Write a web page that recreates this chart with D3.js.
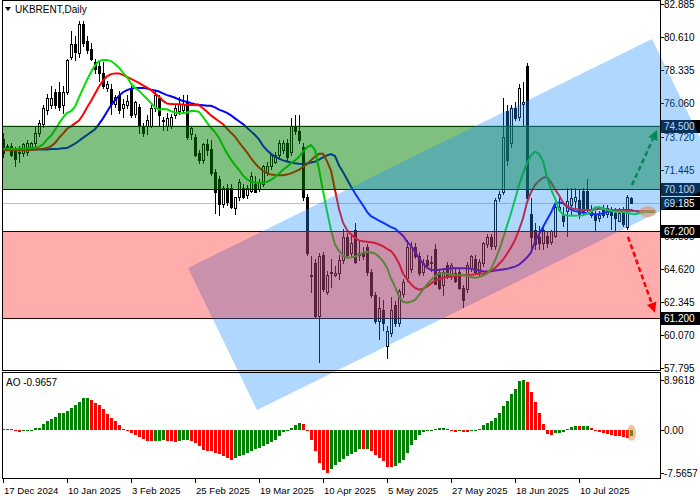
<!DOCTYPE html>
<html><head><meta charset="utf-8">
<script src="https://cdn.jsdelivr.net/npm/d3@7"></script>
<style>
body{margin:0;background:#fff}
svg{display:block}
text{font-family:"Liberation Sans",Arial,sans-serif;font-size:10px;fill:#000}
text.date{font-size:9.6px}
</style>
</head><body>
<svg id="c" width="700" height="500"></svg>
<script>
// ---------------- DATA ----------------
const symbol = "UKBRENT,Daily";
const dateTickBars = [0,16,32,48,64,80,96,112,128,144];
const dateTickLabels = ["17 Dec 2024","10 Jan 2025","3 Feb 2025","25 Feb 2025","19 Mar 2025","10 Apr 2025","5 May 2025","27 May 2025","18 Jun 2025","10 Jul 2025"];
const priceTicks = [82.885,80.610,78.335,76.060,73.720,71.445,69.170,66.895,64.620,62.345,60.070,57.795];
const aoTicks = [8.9618,0,-7.5657];
const aoTickLabels = ["8.9618","0.00","-7.5657"];
const levelValues = [74.5,70.1,67.2,61.2];
const levelLabels = ["74.500","70.100","67.200","61.200"];
const currentPrice = 69.185;
const aoLabel = "AO -0.9657";

const opens = [73.6,73.0,73.1,72.9,72.6,72.6,72.7,72.9,73.3,74.0,
74.6,75.6,75.9,76.8,76.8,75.9,76.8,79.2,80.1,79.5,
81.5,80.3,79.8,78.9,78.6,78.1,77.1,77.0,76.0,76.6,
75.7,75.9,77.0,75.3,75.8,74.4,74.5,74.5,75.7,76.4,
74.9,74.5,74.5,75.2,75.5,75.6,76.1,73.9,73.7,72.6,
72.1,73.2,72.9,71.3,70.8,69.1,70.2,70.2,68.8,69.6,
70.2,69.7,70.0,70.5,70.1,70.5,71.3,71.7,72.0,72.5,
72.8,73.3,72.7,74.5,74.1,73.0,69.6,64.1,65.0,61.4,
65.6,63.0,64.4,64.2,64.3,65.2,66.8,65.7,67.3,65.7,
65.8,66.1,64.4,62.8,61.0,61.8,59.3,60.2,62.1,60.9,
62.9,64.0,64.6,66.1,65.5,64.4,65.2,65.0,66.0,64.4,
63.5,64.9,64.1,64.3,64.4,63.3,63.2,64.7,65.3,64.4,
65.0,66.3,66.8,66.2,69.5,69.9,75.5,73.3,75.7,75.1,
76.0,78.6,68.4,67.3,66.8,66.4,66.9,66.5,66.9,68.7,
68.4,68.6,69.0,69.3,69.4,70.0,70.0,68.7,68.3,68.1,
68.7,68.4,68.7,68.5,67.9,68.7,67.5,69.5];
const highs = [74.0,73.2,73.3,73.0,73.1,73.3,73.5,73.4,74.4,74.9,
75.9,76.7,77.2,77.0,77.5,77.2,79.1,81.0,80.7,81.7,
81.7,80.7,80.2,79.1,78.9,78.9,77.6,77.4,76.6,76.9,
76.3,76.6,77.2,76.2,76.0,74.7,75.2,75.9,76.9,76.6,
75.1,75.4,75.3,75.9,76.5,76.6,76.6,74.5,73.9,72.8,
73.3,73.6,73.5,71.5,71.0,70.3,70.5,70.5,69.6,70.8,
70.5,70.4,71.3,71.0,70.8,71.8,72.0,72.6,72.7,73.5,
73.5,73.6,75.0,75.2,75.2,73.3,69.8,65.5,65.3,65.7,
65.8,64.5,65.3,64.8,65.6,67.4,67.1,67.0,67.8,66.6,
66.1,66.3,64.6,63.0,62.7,62.5,60.7,62.7,62.4,63.2,
63.9,66.6,66.5,66.4,65.8,65.3,65.6,65.5,66.3,64.6,
64.6,65.1,65.0,64.7,64.6,63.5,65.1,65.6,65.6,65.3,
66.5,67.0,67.0,69.5,70.0,76.4,75.9,75.9,76.1,77.4,
77.5,78.8,69.5,67.8,67.6,67.6,67.2,67.3,69.0,69.5,
68.9,70.2,70.2,70.2,70.1,70.2,70.8,69.0,68.6,68.6,
69.0,69.0,68.9,68.8,68.8,68.9,69.7,69.6];
const lows = [72.3,72.9,72.4,71.7,72.0,72.4,72.5,72.8,73.0,73.8,
74.4,75.3,75.7,75.7,75.6,75.4,76.7,79.1,79.0,79.2,
80.0,79.5,79.0,78.1,77.6,77.1,76.9,75.3,75.8,75.4,
75.1,75.7,75.1,75.1,74.0,73.8,73.9,74.4,75.5,74.5,
74.2,74.2,74.3,75.0,75.3,75.4,73.6,73.6,72.4,71.9,
71.9,72.5,71.1,68.5,68.3,68.9,69.0,68.8,68.4,69.4,
69.5,69.5,69.9,69.9,70.0,70.3,71.1,71.5,71.9,72.2,
72.6,72.1,72.5,73.9,73.3,69.4,65.6,63.0,61.2,58.2,
63.1,62.9,63.4,64.1,63.9,65.0,65.5,65.5,65.0,65.2,
65.3,64.2,62.7,60.9,59.8,60.4,58.5,60.0,60.7,60.7,
62.7,63.8,64.4,65.4,64.2,64.2,64.7,64.5,63.6,63.2,
62.8,64.0,63.9,63.7,63.2,62.0,63.0,64.5,64.3,64.2,
64.8,66.1,66.0,66.0,69.3,69.8,71.8,73.0,74.9,74.9,
74.5,69.3,65.8,66.0,66.0,66.0,66.1,66.3,66.8,68.6,
67.6,66.9,68.3,68.8,68.1,68.4,68.6,68.2,67.2,67.9,
68.2,68.2,67.4,67.3,67.9,67.6,67.4,69.2];
const closes = [72.6,73.1,72.5,72.2,72.7,73.2,73.3,73.3,74.0,74.7,
75.7,76.4,76.4,75.9,75.8,76.8,79.0,80.1,79.6,81.5,
80.2,79.7,79.1,78.4,78.1,77.2,77.4,76.0,76.5,75.6,
76.0,76.2,75.2,76.1,74.5,74.0,74.9,75.7,76.6,75.2,
74.8,75.0,75.1,75.7,76.0,76.0,73.7,74.3,72.5,72.1,
73.2,72.8,71.2,69.9,69.1,70.2,69.2,68.9,69.6,70.6,
69.6,70.2,71.0,69.9,70.6,71.7,71.7,72.5,72.5,73.3,
73.3,72.3,74.5,74.1,73.5,69.6,65.7,64.2,61.4,65.5,
63.2,64.2,64.3,64.3,65.2,66.8,65.6,66.4,65.1,65.6,
65.5,64.4,62.8,61.0,61.9,60.9,60.3,61.8,60.9,63.1,
63.7,66.1,66.1,65.5,64.3,65.0,64.9,65.1,63.6,63.3,
64.4,64.2,64.9,63.8,63.3,62.5,64.9,65.5,64.4,65.1,
66.4,66.8,66.2,69.4,69.8,73.7,72.1,75.7,75.0,77.1,
76.1,69.5,66.8,66.3,66.4,67.3,66.4,67.2,68.9,68.9,
67.9,69.3,69.5,69.6,68.3,68.6,68.7,68.3,68.0,68.3,
68.3,68.8,68.3,68.1,68.5,67.7,69.6,69.185];

// Alligator lines (already shifted forward, one value per bar slot)
const jawBlue = [72.85,72.85,72.85,72.85,72.85,72.85,72.85,72.85,72.85,72.85,
72.85,72.85,72.88,72.88,72.9,72.93,72.95,73.1,73.25,73.45,
73.65,73.85,74.05,74.25,74.6,75.0,75.45,75.9,76.25,76.55,
76.8,76.95,77.05,77.1,77.1,77.1,77.05,76.98,76.92,76.85,
76.72,76.6,76.52,76.42,76.3,76.2,76.15,76.05,75.98,75.93,
75.9,75.87,75.87,75.75,75.6,75.5,75.38,75.2,75.0,74.8,
74.6,74.35,74.1,73.85,73.55,73.1,72.8,72.55,72.36,72.22,
72.1,72.02,71.95,71.9,71.87,71.85,71.88,71.95,72.01,72.15,
72.3,72.45,72.54,72.4,71.75,71.3,70.8,70.3,69.83,69.4,
69.0,68.55,68.25,68.1,67.95,67.8,67.65,67.5,67.4,67.15,
66.9,66.5,66.2,65.8,65.35,65.0,64.7,64.55,64.5,64.55,
64.6,64.62,64.66,64.66,64.66,64.66,64.66,64.62,64.55,64.5,
64.45,64.43,64.45,64.5,64.54,64.58,64.62,64.7,64.77,64.9,
65.15,65.4,65.75,66.5,67.0,67.5,68.0,68.5,69.1,69.2,
69.15,68.9,68.7,68.6,68.55,68.5,68.45,68.42,68.38,68.4,
68.45,68.55,68.6,68.65,68.68,68.68,68.68,68.68,68.6,68.56,
68.56,68.56,68.56,68.56];
const teethRed = [72.8,72.8,72.8,72.8,72.8,72.8,72.8,72.82,72.85,72.88,
72.9,72.95,73.08,73.3,73.65,73.95,74.28,74.45,74.65,74.85,
75.25,75.75,76.2,76.7,77.2,77.6,77.9,78.05,78.1,78.1,
78.0,77.85,77.72,77.58,77.45,77.28,77.12,76.95,76.7,76.5,
76.2,76.02,75.98,75.97,75.97,75.95,75.92,75.92,75.92,75.9,
75.7,75.45,75.2,75.0,74.8,74.6,74.3,74.0,73.74,73.35,
73.0,72.65,72.25,71.9,71.6,71.38,71.22,71.12,71.09,71.08,
71.08,71.12,71.2,71.32,71.45,71.65,71.85,72.1,72.36,72.55,
72.55,72.05,71.4,70.06,68.75,67.8,67.3,67.0,66.75,66.58,
66.52,66.49,66.45,66.4,66.3,66.18,66.0,65.85,65.5,65.0,
64.3,63.9,63.55,63.3,63.18,63.25,63.4,63.6,63.8,63.9,
64.0,64.05,64.08,64.12,64.15,64.18,64.2,64.22,64.25,64.28,
64.3,64.35,64.5,64.66,64.95,65.25,65.65,66.1,66.61,67.3,
68.1,69.2,69.9,70.4,70.7,70.9,70.95,70.6,70.1,69.7,
69.2,68.95,68.8,68.75,68.7,68.68,68.68,68.68,68.72,68.76,
68.78,68.72,68.68,68.68,68.68,68.66,68.64,68.62,68.61,68.6,
68.6,68.58,68.57,68.56];
const lipsGreen = [72.9,72.9,72.88,72.88,72.9,72.9,72.92,72.95,72.98,73.03,
73.2,73.55,73.8,74.2,74.65,75.05,75.38,75.5,75.8,76.45,
77.05,77.65,78.2,78.65,78.95,79.02,79.02,78.95,78.75,78.5,
78.15,77.85,77.4,77.1,76.9,76.62,76.35,76.05,75.75,75.6,
75.65,75.62,75.5,75.4,75.35,75.35,75.4,75.5,75.5,75.45,
75.1,74.7,74.35,74.05,73.65,73.1,72.6,72.15,71.78,71.45,
71.05,70.8,70.62,70.57,70.55,70.58,70.63,70.75,70.95,71.2,
71.45,71.65,71.9,72.1,72.35,72.7,73.0,73.16,72.82,71.5,
70.0,68.6,67.3,66.3,65.85,65.55,65.38,65.4,65.46,65.6,
65.72,65.8,65.75,65.69,65.45,65.15,64.7,63.95,63.39,62.7,
62.35,62.29,62.35,62.47,62.8,63.2,63.55,63.85,64.1,64.3,
64.32,64.28,64.22,64.2,64.2,64.2,64.15,64.05,64.01,64.05,
64.15,64.3,64.6,65.2,65.9,66.7,67.6,68.45,69.4,70.4,
71.2,71.9,72.45,72.7,72.55,72.05,70.95,70.1,69.48,68.7,
68.35,68.3,68.28,68.29,68.3,68.32,68.42,68.56,68.85,68.88,
68.78,68.7,68.62,68.56,68.56,68.56,68.5,68.42,68.38,68.45,
68.52,68.56,68.56,68.56];

const aoValues = [0.15,0.15,0.17,-0.15,-0.25,-0.2,-0.15,-0.05,0.3,0.45,
1.1,1.6,2.0,2.4,3.0,3.05,3.4,4.0,4.5,5.1,
5.7,5.8,5.4,4.9,4.5,3.8,2.9,2.2,1.6,0.9,
0.2,-0.2,-0.45,-0.8,-1.2,-1.5,-1.85,-1.9,-1.88,-1.87,
-1.8,-1.9,-2.0,-2.2,-2.0,-1.8,-1.7,-1.9,-2.25,-2.8,
-3.5,-3.65,-3.8,-4.0,-4.3,-4.6,-5.05,-5.3,-4.9,-4.7,
-4.5,-4.15,-3.8,-3.4,-3.2,-2.8,-2.5,-2.1,-1.7,-1.0,
-0.4,0.1,0.45,0.9,1.3,1.1,-0.2,-1.8,-3.8,-5.8,
-7.1,-7.5657,-7.0,-6.3,-5.7,-5.2,-4.7,-4.3,-3.9,-3.4,
-3.45,-3.3,-3.8,-4.5,-5.05,-5.6,-6.5,-6.65,-6.4,-5.85,
-5.3,-4.0,-2.65,-1.8,-0.95,-0.4,-0.2,-0.1,0.2,0.35,
0.38,0.2,-0.05,-0.4,-0.2,-0.35,-0.38,-0.2,0.05,0.25,
0.9,1.3,1.55,2.1,3.0,4.3,5.2,6.5,7.3,8.75,
8.9618,8.6,6.9,5.05,3.15,1.1,-0.65,-0.85,-0.55,-0.45,
-0.35,0.15,0.55,0.72,0.66,0.68,0.7,0.35,-0.1,-0.35,
-0.5,-0.7,-0.85,-1.0,-1.1,-1.2,-1.4,-0.9657];

// channel corners and arrows in (bar, price) units
const channelBars   = [46.25, 162.25, 179.5, 63.5];
const channelPrices = [64.68, 80.47, 70.67, 54.885];
const upArrowBars = [157.25, 163.5],  upArrowPrices = [70.4, 74.2];
const dnArrowBars = [156.25, 163.0],  dnArrowPrices = [66.82, 61.6];

// ---------------- DRAW ----------------
const svg = d3.select("#c");
const L = 2, R = 660, T = 0, B1 = 370, T2 = 372, B2 = 478;
const n = closes.length;
const x = d3.scaleLinear().domain([0, n-1]).range([3, 3 + 4*(n-1)]);
const y = d3.scaleLinear().domain([57.795, 82.885]).range([367.8, 4]);
const ya = d3.scaleLinear().domain([-7.5657, 8.9618]).range([472.5, 380]);
const px = i => Math.round(x(i));

svg.append("clipPath").attr("id","cm").append("rect").attr("x",L).attr("y",T).attr("width",R-L).attr("height",B1-T);
svg.append("clipPath").attr("id","ca").append("rect").attr("x",L).attr("y",T2).attr("width",R-L).attr("height",B2-T2);

// ---- axis labels (right) ----
const ax = svg.append("g");
priceTicks.forEach(v=>{
  const yy = Math.round(y(v))+0.5;
  ax.append("line").attr("x1",R).attr("x2",R+4).attr("y1",yy).attr("y2",yy).attr("stroke","#000");
  ax.append("text").attr("x",R+4).attr("y",yy).attr("dy","0.35em").text(v.toFixed(3));
});
aoTicks.forEach((v,k)=>{
  const yy = Math.round(ya(v))+0.5;
  ax.append("line").attr("x1",R).attr("x2",R+4).attr("y1",yy).attr("y2",yy).attr("stroke","#000");
  ax.append("text").attr("x",R+4).attr("y",yy).attr("dy","0.35em").text(aoTickLabels[k]);
});
// level label boxes
const boxVals = levelValues.concat([currentPrice]);
const boxTxt = levelLabels.concat([currentPrice.toFixed(3)]);
boxVals.forEach((v,k)=>{
  const yy = Math.round(y(v));
  ax.append("rect").attr("x",R+1).attr("y",yy-6).attr("width",700-R-1).attr("height",13).attr("fill","#000");
  ax.append("text").attr("x",R+4).attr("y",yy+0.5).attr("dy","0.35em").style("fill","#fff").text(boxTxt[k]);
});
// date axis
dateTickBars.forEach((b,k)=>{
  const xx = px(b)+0.5;
  ax.append("line").attr("x1",xx).attr("x2",xx).attr("y1",B2).attr("y2",B2+5).attr("stroke","#000");
  ax.append("text").attr("class","date").attr("x",xx+0.5).attr("y",494).text(dateTickLabels[k]);
});

// ---- main panel content ----
const gm = svg.append("g").attr("clip-path","url(#cm)");
gm.append("line").attr("x1",L).attr("x2",R).attr("y1",Math.round(y(currentPrice))+0.5).attr("y2",Math.round(y(currentPrice))+0.5).attr("stroke","#c0c0c0");
for (let i=0;i<n;i++){
  const cx = px(i);
  gm.append("line").attr("x1",cx+0.5).attr("x2",cx+0.5).attr("y1",Math.round(y(highs[i]))).attr("y2",Math.round(y(lows[i]))+1).attr("stroke","#000");
  const top = Math.round(y(Math.max(opens[i],closes[i])));
  const bot = Math.round(y(Math.min(opens[i],closes[i])));
  const h = Math.max(1, bot-top+1);
  gm.append("rect").attr("x",cx-1).attr("y",top).attr("width",3).attr("height",h).attr("fill","#000");
  if (closes[i]>opens[i] && h>2) gm.append("rect").attr("x",cx).attr("y",top+1).attr("width",1).attr("height",h-2).attr("fill","#fff");
}
const line = d3.line().x((d,i)=>x(i)).y(d=>y(d));
[[jawBlue,"#0000ff"],[teethRed,"#ff0000"],[lipsGreen,"#00e000"]].forEach(([arr,c])=>{
  gm.append("path").attr("d",line(arr)).attr("fill","none").attr("stroke",c).attr("stroke-width",2);
});
levelValues.forEach(v=>{
  const yy=Math.round(y(v))+0.5;
  gm.append("line").attr("x1",L).attr("x2",R).attr("y1",yy).attr("y2",yy).attr("stroke","#000");
});
function arrow(g, bars, prices, col){
  const x0=x(bars[0]),y0=y(prices[0]),x1=x(bars[1]),y1=y(prices[1]);
  const ang=Math.atan2(y1-y0,x1-x0), len=10, w=5;
  const bx=x1-len*Math.cos(ang), by=y1-len*Math.sin(ang);
  g.append("line").attr("x1",x0).attr("y1",y0).attr("x2",bx).attr("y2",by).attr("stroke",col).attr("stroke-width",2.5).attr("stroke-dasharray","5,3");
  const p=[[x1,y1],[bx+w*Math.sin(ang),by-w*Math.cos(ang)],[bx-w*Math.sin(ang),by+w*Math.cos(ang)]];
  g.append("path").attr("d","M"+p.join("L")+"Z").attr("fill",col);
}
arrow(svg, upArrowBars, upArrowPrices, "#008000");
arrow(svg, dnArrowBars, dnArrowPrices, "#ff0000");

// ---- AO panel ----
const ga = svg.append("g").attr("clip-path","url(#ca)");
const y0a = Math.round(ya(0));
aoValues.forEach((v,i)=>{
  const up = i===0 ? v>=0 : v>aoValues[i-1];
  const yy = Math.round(ya(v));
  ga.append("rect").attr("x",px(i)-1).attr("y",Math.min(yy,y0a)).attr("width",3).attr("height",Math.max(1,Math.abs(yy-y0a))).attr("fill",up?"#008000":"#ff0000");
});
svg.append("text").attr("x",6).attr("y",386).text(aoLabel);

// ---- overlays ----
svg.append("rect").attr("x",L).attr("width",R-L).attr("y",y(levelValues[0])).attr("height",y(levelValues[1])-y(levelValues[0])).attr("fill","rgb(0,128,0)").attr("fill-opacity",0.5);
const chPts = channelBars.map((b,k)=>[x(b),y(channelPrices[k])]);
svg.append("path").attr("d","M"+chPts.join("L")+"Z").attr("fill","rgb(30,144,255)").attr("fill-opacity",0.35);
svg.append("rect").attr("x",L).attr("width",R-L).attr("y",y(levelValues[2])).attr("height",y(levelValues[3])-y(levelValues[2])).attr("fill","rgb(255,0,0)").attr("fill-opacity",0.325);
svg.append("ellipse").attr("cx",x(n-1+4.2)).attr("cy",y(lipsGreen[lipsGreen.length-2])).attr("rx",8.5).attr("ry",5.5).attr("fill","rgb(240,130,60)").attr("fill-opacity",0.5);
svg.append("ellipse").attr("cx",px(n-1)+0.5).attr("cy",ya(aoValues[n-1]/2)).attr("rx",4.5).attr("ry",8).attr("fill","rgb(240,130,60)").attr("fill-opacity",0.5);

// frames
svg.append("rect").attr("x",L+0.5).attr("y",T+0.5).attr("width",R-L).attr("height",B1-T).attr("fill","none").attr("stroke","#000");
svg.append("rect").attr("x",L+0.5).attr("y",T2+0.5).attr("width",R-L).attr("height",B2-T2).attr("fill","none").attr("stroke","#000");
// title
svg.append("path").attr("d","M5,7L11,7L8,11Z").attr("fill","#000");
svg.append("text").attr("x",15).attr("y",13).text(symbol);
</script>
</body></html>
